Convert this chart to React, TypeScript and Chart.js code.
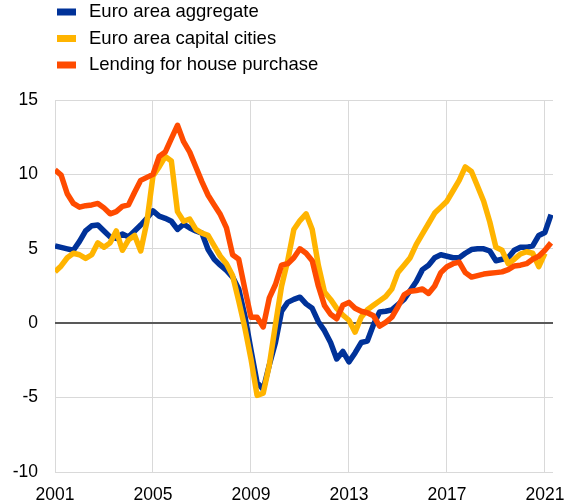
import React, { useEffect, useRef } from "react";
import { Chart, registerables } from "chart.js";

Chart.register(...registerables);

// Quarterly observations, 2001 Q1 to 2021 Q2
const startYear = 2001;
const quarterCount = 82;
const quarters = Array.from({ length: quarterCount }, (_, i) => startYear + i / 4);

const xTickYears = [2001, 2005, 2009, 2013, 2017, 2021];
const yMin = -10;
const yMax = 15;
const yStep = 5;

const seriesLabels = [
  "Euro area aggregate",
  "Euro area capital cities",
  "Lending for house purchase",
];
const seriesColors = ["#003299", "#ffb400", "#ff4b00"];

const euroAreaAggregate = [
  5.2, 5.1, 5.0, 4.9, 5.5, 6.2, 6.55, 6.6, 6.2, 5.8,
  5.7, 6.0, 5.8, 6.2, 6.6, 7.05, 7.55, 7.2, 7.05, 6.85,
  6.3, 6.65, 6.4, 6.2, 6.05, 4.95, 4.3, 3.9, 3.55, 3.1,
  2.3, 0.5, -1.8, -4.0, -4.45, -2.8, -1.3, 0.8, 1.4, 1.6,
  1.75, 1.3, 1.0, 0.1, -0.5, -1.3, -2.4, -1.9, -2.6, -2.0,
  -1.3, -1.2, -0.1, 0.75, 0.8, 0.9, 1.25, 1.6, 2.2, 2.8,
  3.6, 3.9, 4.4, 4.6, 4.5, 4.4, 4.4, 4.7, 4.95, 5.0,
  5.0, 4.85, 4.2, 4.3, 4.4, 4.9, 5.1, 5.1, 5.2, 5.9,
  6.1, 7.3,
];

const euroAreaCapitalCities = [
  3.45, 3.85, 4.4, 4.7, 4.6, 4.35, 4.6, 5.4, 5.1, 5.4,
  6.2, 4.9, 5.6, 5.9, 4.85, 6.8, 9.9, 10.5, 11.2, 10.9,
  7.5, 6.85, 7.0, 6.3, 6.05, 5.9, 5.2, 4.5, 4.0, 3.2,
  1.5, -0.3, -2.4, -4.85, -4.7, -2.8, -0.1, 2.5, 4.2, 6.3,
  6.9, 7.35, 6.3, 3.9, 2.1, 1.6, 1.0, 0.55, 0.2, -0.6,
  0.4, 0.9, 1.2, 1.5, 1.8, 2.3, 3.4, 3.9, 4.4, 5.3,
  6.0, 6.7, 7.4, 7.8, 8.2, 8.9, 9.6, 10.5, 10.2, 9.2,
  8.2, 6.8, 5.1, 4.9, 4.0, 4.3, 4.65, 4.8, 4.7, 3.8,
  4.7, null,
];

const lendingHousePurchase = [
  10.3, 9.95, 8.7, 8.05, 7.8, 7.9, 7.95, 8.05, 7.75, 7.35,
  7.5, 7.85, 7.95, 8.8, 9.6, 9.8, 10.0, 11.2, 11.5, 12.4,
  13.3, 12.2, 11.5, 10.5, 9.5, 8.6, 7.95, 7.3, 6.4, 4.6,
  4.3, 2.3, 0.4, 0.4, -0.25, 1.7, 2.6, 3.9, 4.0, 4.4,
  5.0, 4.7, 4.2, 2.5, 1.2, 0.6, 0.3, 1.2, 1.4, 1.0,
  0.8, 0.7, 0.5, -0.2, 0.05, 0.4, 1.1, 1.9, 2.15, 2.2,
  2.3, 2.0, 2.5, 3.4, 3.8, 4.0, 4.1, 3.4, 3.1, 3.2,
  3.3, 3.35, 3.4, 3.45, 3.6, 3.85, 3.9, 4.0, 4.3, 4.5,
  4.9, 5.4,
];

const seriesValues = [euroAreaAggregate, euroAreaCapitalCities, lendingHousePurchase];

const FONT = 'Arial, "Liberation Sans", sans-serif';

const legendPlugin = {
  id: "stackedLegend",
  afterDraw(chart: any) {
    const ctx = chart.ctx;
    ctx.save();
    ctx.font = `18.5px ${FONT}`;
    ctx.textBaseline = "middle";
    ctx.textAlign = "left";
    chart.data.datasets.forEach((ds: any, i: number) => {
      const cy = 12 + i * 26.5;
      ctx.fillStyle = ds.borderColor;
      ctx.fillRect(57, cy - 3.5, 19, 7);
      ctx.fillStyle = "#000000";
      ctx.fillText(ds.label, 89, cy);
    });
    ctx.restore();
  },
};

export default function App() {
  const canvasRef = useRef<HTMLCanvasElement | null>(null);

  useEffect(() => {
    if (!canvasRef.current) return;
    Chart.defaults.font.family = FONT;
    const datasets = seriesLabels.map((label, s) => ({
      label,
      data: quarters.map((q, i) => ({ x: q, y: seriesValues[s][i] })),
      borderColor: seriesColors[s],
      backgroundColor: seriesColors[s],
      borderWidth: 5.5,
      pointRadius: 0,
      pointHoverRadius: 0,
      tension: 0,
      fill: false,
      spanGaps: false,
      borderJoinStyle: "round" as const,
      borderCapStyle: "butt" as const,
      order: 3 - s,
    }));

    const chart = new Chart(canvasRef.current, {
      type: "line",
      data: { datasets },
      plugins: [legendPlugin],
      options: {
        animation: false,
        responsive: false,
        maintainAspectRatio: false,
        layout: { padding: { top: 100, right: 12, bottom: 0, left: 0 } },
        plugins: {
          legend: { display: false },
          tooltip: { enabled: false },
          title: { display: false },
        },
        scales: {
          x: {
            type: "linear",
            min: 2001,
            max: 2021.33,
            afterBuildTicks: (scale: any) => {
              scale.ticks = xTickYears.map((v) => ({ value: v }));
            },
            afterFit: (scale: any) => {
              scale.height = 32;
              scale.paddingLeft = 0;
              scale.paddingRight = 0;
            },
            grid: {
              color: "#d9d9d9",
              lineWidth: 1,
              drawTicks: false,
            },
            border: { display: false },
            ticks: {
              autoSkip: false,
              maxRotation: 0,
              padding: 13,
              color: "#000000",
              font: { size: 17.5, family: FONT },
              callback: (v: any) => String(v),
            },
          },
          y: {
            type: "linear",
            min: yMin,
            max: yMax,
            afterFit: (scale: any) => {
              scale.width = 55;
              scale.paddingTop = 0;
              scale.paddingBottom = 0;
            },
            grid: {
              color: (ctx: any) => (ctx.tick && ctx.tick.value === 0 ? "#595959" : "#d9d9d9"),
              lineWidth: (ctx: any) => (ctx.tick && ctx.tick.value === 0 ? 2 : 1),
              drawTicks: false,
            },
            border: { display: false },
            ticks: {
              stepSize: yStep,
              padding: 17,
              color: "#000000",
              font: { size: 17.5, family: FONT },
            },
          },
        },
      },
    });

    return () => chart.destroy();
  }, []);

  return (
    <div style={{ position: "absolute", left: 0, top: 0, width: 565, height: 504, background: "#ffffff" }}>
      <canvas ref={canvasRef} width={565} height={504} style={{ display: "block", width: 565, height: 504 }} />
    </div>
  );
}
